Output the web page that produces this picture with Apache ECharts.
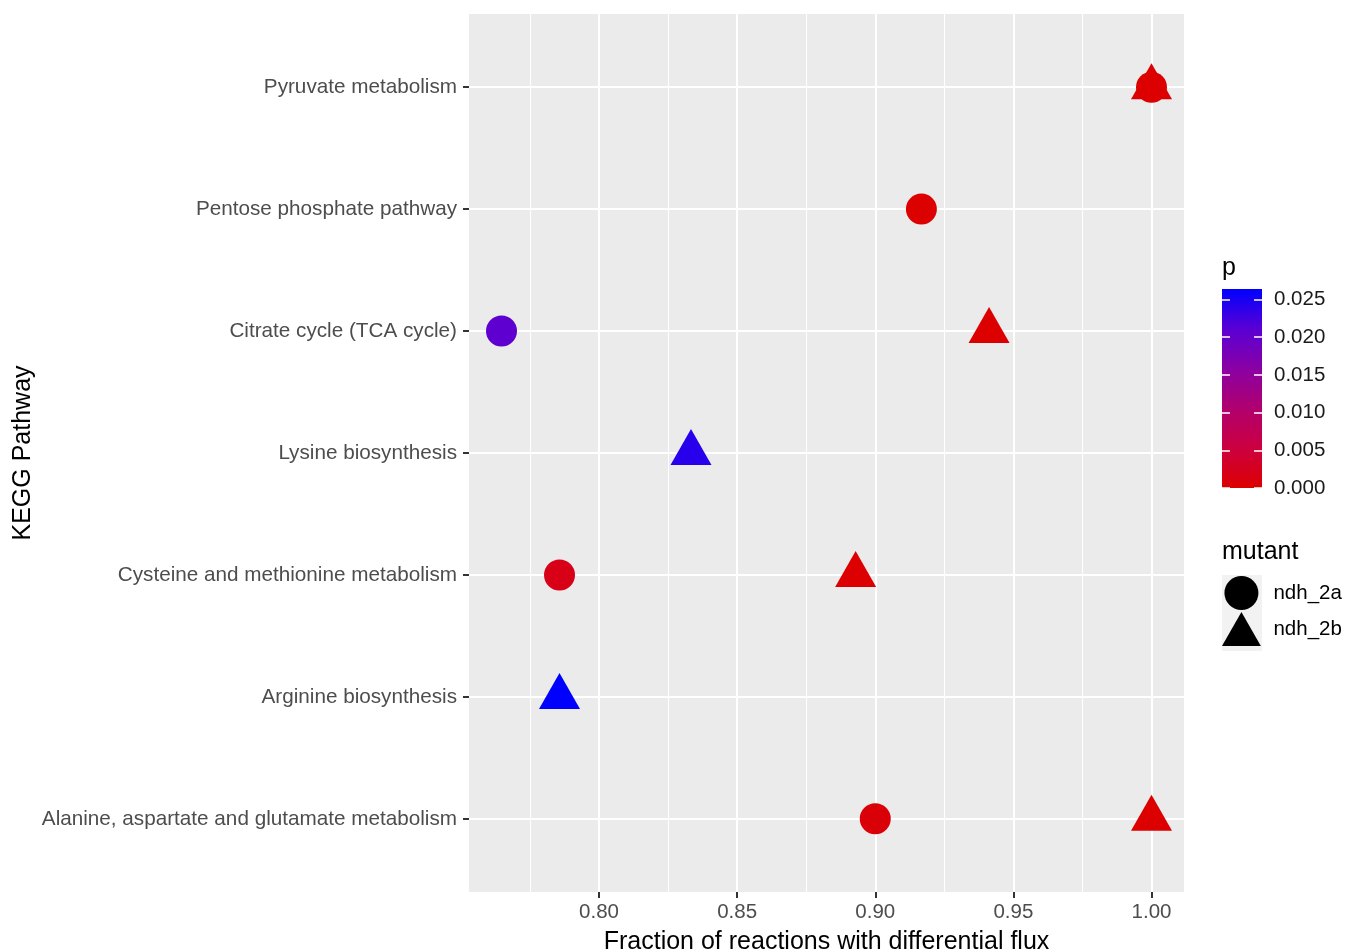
<!DOCTYPE html>
<html>
<head>
<meta charset="utf-8">
<script src="https://cdn.jsdelivr.net/npm/echarts@6/dist/echarts.min.js"></script>
<style>
  html, body { margin: 0; padding: 0; background: #ffffff; }
  #chart { width: 1346px; height: 952px; }
</style>
</head>
<body>
<div id="chart"></div>
<script>
// Pathways, listed bottom to top
const pathways = [
  'Alanine, aspartate and glutamate metabolism',
  'Arginine biosynthesis',
  'Cysteine and methionine metabolism',
  'Lysine biosynthesis',
  'Citrate cycle (TCA cycle)',
  'Pentose phosphate pathway',
  'Pyruvate metabolism'
];

// Fraction of reactions with differential flux, per mutant (null = not enriched)
const fracNdh2a = [0.9000, null, 0.7857, null, 0.7647, 0.9167, 1.0000];
const fracNdh2b = [1.0000, 0.7857, 0.8929, 0.8333, 0.9412, null, 1.0000];

// Enrichment p-values
const pNdh2a = [0.0008, null, 0.0020, null, 0.0207, 0.0003, 0.0002];
const pNdh2b = [0.0002, 0.0264, 0.0003, 0.0240, 0.0002, null, 0.0002];

// Axis ticks
const xTicks = [0.80, 0.85, 0.90, 0.95, 1.00];
const xMinorTicks = [0.775, 0.825, 0.875, 0.925, 0.975];
const pTicks = [0.000, 0.005, 0.010, 0.015, 0.020, 0.025];

// Colour ramp for p, low (red) to high (blue)
const pColors = ['#dc0000', '#cc0040', '#b0006e', '#8a00a4', '#5a00d4', '#0000ff'];

const FONT = 'Liberation Sans, Arial, sans-serif';

function toPoints(fracs, ps) {
  const out = [];
  fracs.forEach((f, i) => {
    if (f !== null) out.push([f, i, ps[i]]);
  });
  return out;
}

const allFrac = fracNdh2a.concat(fracNdh2b).filter(v => v !== null);
const allP = pNdh2a.concat(pNdh2b).filter(v => v !== null);
const fMin = Math.min(...allFrac), fMax = Math.max(...allFrac);
const fPad = (fMax - fMin) * 0.05;
const pMin = Math.min(...allP), pMax = Math.max(...allP);
const catIdx = pathways.map((_, i) => i);

const chart = echarts.init(document.getElementById('chart'), null, { renderer: 'canvas' });

const option = {
  animation: false,
  backgroundColor: '#ffffff',
  textStyle: { fontFamily: FONT },
  title: [
    { text: 'p', left: 1222, top: 256, padding: 0,
      textStyle: { fontFamily: FONT, fontSize: 25, fontWeight: 'normal', color: '#000' } },
    { text: 'mutant', left: 1222, top: 540, padding: 0,
      textStyle: { fontFamily: FONT, fontSize: 25, fontWeight: 'normal', color: '#000' } }
  ],
  graphic: [
    { type: 'rect', z: -1, shape: { x: 1222, y: 575, width: 40, height: 76 },
      style: { fill: '#f2f2f2' } }
  ],
  grid: [
    { left: 469, top: 14, width: 715, height: 878, show: true,
      backgroundColor: '#ebebeb', borderWidth: 0, outerBoundsMode: 'none', containLabel: false },
    { left: 1222, top: 289, width: 40, height: 199, outerBoundsMode: 'none', containLabel: false }
  ],
  xAxis: [
    {
      type: 'value', gridIndex: 0, min: fMin - fPad, max: fMax + fPad,
      name: 'Fraction of reactions with differential flux',
      nameLocation: 'middle', nameGap: 38, nameMoveOverlap: false,
      nameTextStyle: { fontFamily: FONT, fontSize: 25, color: '#000' },
      axisLine: { show: false, onZero: false },
      axisTick: { show: true, customValues: xTicks, length: 6,
        lineStyle: { color: '#333333', width: 2 } },
      axisLabel: { customValues: xTicks, formatter: v => v.toFixed(2),
        fontFamily: FONT, fontSize: 20.5, color: '#4d4d4d', margin: 10 },
      splitLine: { show: true, lineStyle: { color: '#ffffff', width: 2 } }
    },
    {
      type: 'value', gridIndex: 0, min: fMin - fPad, max: fMax + fPad,
      axisLine: { show: false, onZero: false },
      axisTick: { show: false, customValues: xMinorTicks },
      axisLabel: { show: false, customValues: xMinorTicks },
      splitLine: { show: true, lineStyle: { color: '#ffffff', width: 1 } }
    },
    { type: 'category', gridIndex: 1, data: ['p'], show: false }
  ],
  yAxis: [
    {
      type: 'value', gridIndex: 0, min: -0.6, max: pathways.length - 1 + 0.6,
      name: 'KEGG Pathway', nameLocation: 'middle', nameRotate: 90, nameGap: 433,
      nameMoveOverlap: false,
      nameTextStyle: { fontFamily: FONT, fontSize: 25, color: '#000' },
      axisLine: { show: false, onZero: false },
      axisTick: { show: true, customValues: catIdx, length: 6,
        lineStyle: { color: '#333333', width: 2 } },
      axisLabel: { customValues: catIdx, formatter: v => pathways[Math.round(v)],
        fontFamily: FONT, fontSize: 20.7, color: '#4d4d4d', margin: 12 },
      splitLine: { show: true, lineStyle: { color: '#ffffff', width: 2 } }
    },
    {
      type: 'value', gridIndex: 1, position: 'right', min: 0, max: pMax, z: 5,
      axisLine: { show: false, onZero: false },
      axisTick: { show: true, inside: true, customValues: pTicks, length: 8,
        lineStyle: { color: '#ffffff', width: 1.5 } },
      axisLabel: { customValues: pTicks, formatter: v => v.toFixed(3),
        fontFamily: FONT, fontSize: 20.5, color: '#1a1a1a', margin: 12 },
      splitLine: { show: false }
    },
    {
      type: 'value', gridIndex: 1, position: 'left', min: 0, max: pMax, z: 5,
      axisLine: { show: false, onZero: false },
      axisTick: { show: true, inside: true, customValues: pTicks, length: 8,
        lineStyle: { color: '#ffffff', width: 1.5 } },
      axisLabel: { show: false, customValues: pTicks },
      splitLine: { show: false }
    }
  ],
  visualMap: {
    type: 'continuous', show: false, dimension: 2, seriesIndex: [0, 1],
    min: pMin, max: pMax,
    inRange: { color: pColors }
  },
  legend: {
    orient: 'vertical', left: 1222, top: 576, padding: 0,
    itemWidth: 40, itemHeight: 34, itemGap: 2, selectedMode: false,
    textStyle: { fontFamily: FONT, fontSize: 20.5, color: '#000', padding: [0, 0, 0, 7] },
    data: [
      { name: 'ndh_2a', icon: 'circle', itemStyle: { color: '#000', opacity: 1 } },
      { name: 'ndh_2b', icon: 'path://M20,0L40,35L0,35Z', itemStyle: { color: '#000', opacity: 1 } }
    ]
  },
  series: [
    {
      name: 'ndh_2b', type: 'scatter', xAxisIndex: 0, yAxisIndex: 0,
      symbol: 'triangle', symbolSize: [41, 36], symbolOffset: [0, -6],
      itemStyle: { opacity: 1 },
      data: toPoints(fracNdh2b, pNdh2b), z: 3
    },
    {
      name: 'ndh_2a', type: 'scatter', xAxisIndex: 0, yAxisIndex: 0,
      symbol: 'circle', symbolSize: 31,
      itemStyle: { opacity: 1 },
      data: toPoints(fracNdh2a, pNdh2a), z: 4
    },
    {
      name: 'colourbar', type: 'bar', xAxisIndex: 2, yAxisIndex: 1,
      barWidth: '100%', silent: true,
      data: [pMax],
      itemStyle: {
        color: new echarts.graphic.LinearGradient(0, 0, 0, 1,
          pColors.slice().reverse().map((c, i, arr) => ({ offset: i / (arr.length - 1), color: c })))
      },
      z: 1
    }
  ]
};

chart.setOption(option);
</script>
</body>
</html>
